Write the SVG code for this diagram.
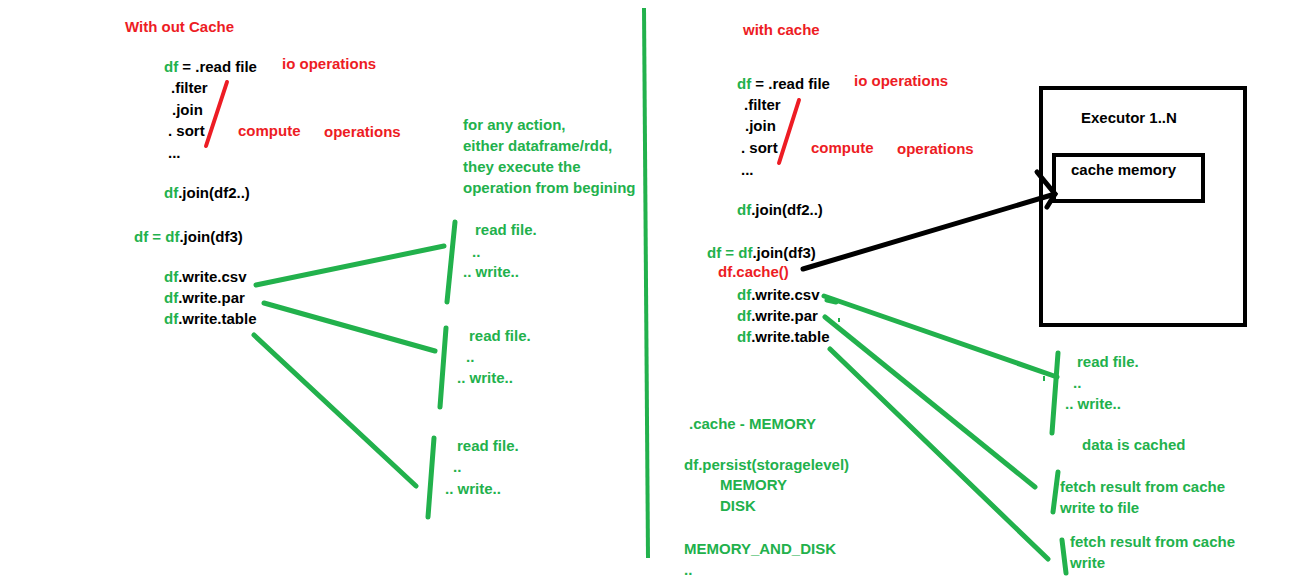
<svg xmlns="http://www.w3.org/2000/svg" width="1300" height="586" viewBox="0 0 1300 586">
<style>
text{font-family:"Liberation Sans",Arial,sans-serif;font-weight:bold;font-size:15px;fill:#000}
.g{fill:#22b14c}
.r{fill:#ed1c24}
.k{fill:#000}
.gl{stroke:#22b14c;stroke-width:5;stroke-linecap:round;fill:none}
.rl{stroke:#ed1c24;stroke-width:4;stroke-linecap:round;fill:none}
.bl{stroke:#000;stroke-width:5;stroke-linecap:round;fill:none}
.box{stroke:#000;stroke-width:4;fill:none}
</style>
<rect width="1300" height="586" fill="#fff"/>

<g id="divider">
<line x1="644" y1="8" x2="648" y2="558" stroke="#22b14c" stroke-width="4"/>
</g>

<g id="without-cache">
<text x="125" y="32" class="r">With out Cache</text>
<text x="164" y="72"><tspan class="g">df</tspan> = .read file</text>
<text x="282" y="69" class="r">io operations</text>
<text x="171" y="93">.filter</text>
<text x="172" y="115">.join</text>
<text x="168" y="136">. sort</text>
<text x="238" y="136" class="r">compute</text>
<text x="324" y="137" class="r">operations</text>
<text x="168" y="158">...</text>
<text x="164" y="198"><tspan class="g">df</tspan>.join(df2..)</text>
<text x="134" y="242"><tspan class="g">df = </tspan><tspan class="g">df</tspan>.join(df3)</text>
<text x="164" y="282"><tspan class="g">df</tspan>.write.csv</text>
<text x="164" y="303"><tspan class="g">df</tspan>.write.par</text>
<text x="164" y="324"><tspan class="g">df</tspan>.write.table</text>
<line class="rl" x1="227" y1="82" x2="206" y2="146"/>
</g>

<g id="note-left">
<text x="463" y="130" class="g">for any action,</text>
<text x="463" y="151" class="g">either dataframe/rdd,</text>
<text x="463" y="172" class="g">they execute the</text>
<text x="463" y="193" class="g">operation from begining</text>
</g>

<g id="result-left-1">
<text x="475" y="235" class="g">read file.</text>
<text x="472" y="257" class="g">..</text>
<text x="463" y="277" class="g">.. write..</text>
</g>
<g id="result-left-2">
<text x="469" y="341" class="g">read file.</text>
<text x="466" y="362" class="g">..</text>
<text x="457" y="383" class="g">.. write..</text>
</g>
<g id="result-left-3">
<text x="457" y="451" class="g">read file.</text>
<text x="453" y="472" class="g">..</text>
<text x="445" y="494" class="g">.. write..</text>
</g>

<g id="with-cache">
<text x="743" y="35" class="r">with cache</text>
<text x="737" y="89"><tspan class="g">df</tspan> = .read file</text>
<text x="854" y="86" class="r">io operations</text>
<text x="744" y="110">.filter</text>
<text x="745" y="131">.join</text>
<text x="741" y="153">. sort</text>
<text x="811" y="153" class="r">compute</text>
<text x="897" y="154" class="r">operations</text>
<text x="741" y="175">...</text>
<text x="737" y="215"><tspan class="g">df</tspan>.join(df2..)</text>
<text x="707" y="258"><tspan class="g">df = </tspan><tspan class="g">df</tspan>.join(df3)</text>
<text x="718" y="277" class="r">df.cache()</text>
<text x="737" y="300"><tspan class="g">df</tspan>.write.csv</text>
<text x="737" y="321"><tspan class="g">df</tspan>.write.par</text>
<text x="737" y="342"><tspan class="g">df</tspan>.write.table</text>
<line class="rl" x1="799" y1="100" x2="779" y2="163"/>
</g>

<g id="storage-levels">
<text x="689" y="429" class="g">.cache - MEMORY</text>
<text x="684" y="470" class="g">df.persist(storagelevel)</text>
<text x="720" y="490" class="g">MEMORY</text>
<text x="720" y="511" class="g">DISK</text>
<text x="684" y="554" class="g">MEMORY_AND_DISK</text>
<text x="684" y="575" class="g">..</text>
</g>

<g id="executor">
<rect class="box" x="1041" y="88" width="204" height="237"/>
<text x="1081" y="123">Executor 1..N</text>
</g>
<g id="cache-memory">
<rect class="box" x="1054" y="155" width="149" height="46"/>
<text x="1071" y="175">cache memory</text>
</g>

<g id="result-right-1">
<text x="1077" y="367" class="g">read file.</text>
<text x="1073" y="388" class="g">..</text>
<text x="1065" y="409" class="g">.. write..</text>
<text x="1082" y="450" class="g">data is cached</text>
</g>
<g id="result-right-2">
<text x="1060" y="492" class="g">fetch result from cache</text>
<text x="1060" y="513" class="g">write to file</text>
</g>
<g id="result-right-3">
<text x="1070" y="547" class="g">fetch result from cache</text>
<text x="1070" y="568" class="g">write</text>
</g>

<g id="connectors">
<line class="gl" x1="256" y1="285" x2="444" y2="246"/>
<line class="gl" x1="455" y1="222" x2="447" y2="302"/>
<line class="gl" x1="264" y1="303" x2="435" y2="351"/>
<line class="gl" x1="446" y1="328" x2="440" y2="407"/>
<line class="gl" x1="254" y1="335" x2="416" y2="486"/>
<line class="gl" x1="434" y1="438" x2="428" y2="517"/>

<line class="bl" x1="803" y1="269" x2="1055" y2="194"/>
<polyline class="bl" points="1037,172 1055,194 1047,207"/>

<line class="gl" x1="824" y1="296" x2="1057" y2="377"/>
<line class="gl" x1="827" y1="300" x2="836" y2="302"/>
<line stroke="#22b14c" stroke-width="2" x1="839" y1="318" x2="839" y2="322"/>
<line stroke="#22b14c" stroke-width="2" x1="1044" y1="376" x2="1044" y2="381"/>
<line class="gl" x1="1058" y1="353" x2="1052" y2="433"/>
<line class="gl" x1="825" y1="317" x2="1035" y2="487"/>
<line class="gl" x1="1058" y1="472" x2="1053" y2="512"/>
<line class="gl" x1="830" y1="349" x2="1048" y2="559"/>
<line class="gl" x1="1062" y1="540" x2="1066" y2="573"/>
</g>
</svg>
